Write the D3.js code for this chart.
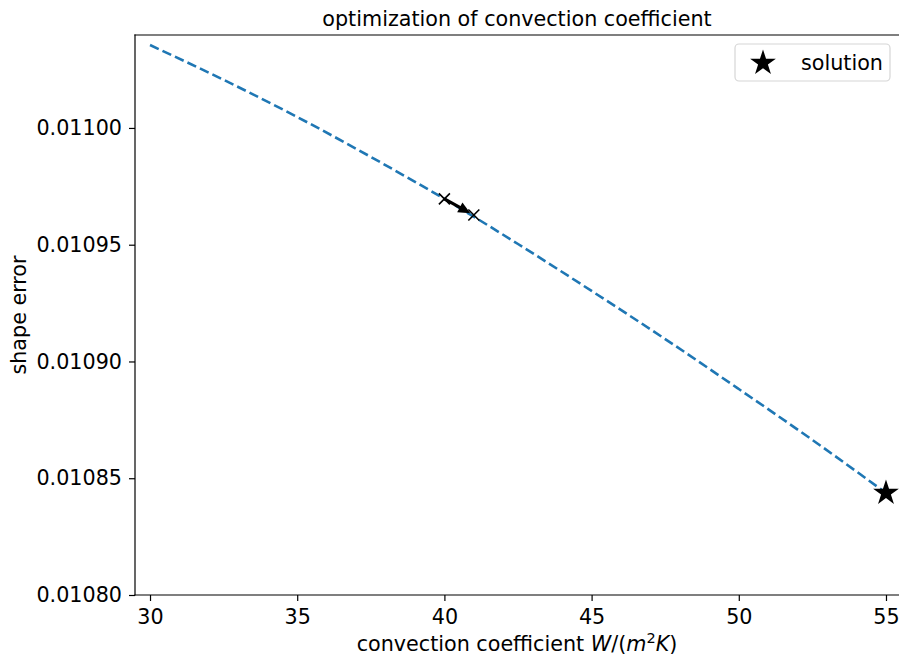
<!DOCTYPE html>
<html>
<head>
<meta charset="utf-8">
<script src="https://cdn.jsdelivr.net/npm/d3@7"></script>
<style>
    body { margin: 0; background: #fff; }
    svg { display: block; font-family: "DejaVu Sans", sans-serif; }
</style>
</head>
<body>
<svg id="chart" width="899" height="656"></svg>
<script>
//  values
const coefficients = [30, 32.5, 35, 37.5, 40, 42.5, 45, 47.5, 50, 52.5, 55];
const shapeErrors = [0.0110355, 0.0110206, 0.0110047, 0.0109876, 0.0109696, 0.0109503,
    0.0109302, 0.0109096, 0.0108882, 0.0108664, 0.0108437];
const stepCoefficients = [40, 41];
const stepErrors = [0.0109696, 0.0109627];
const solution = [55, 0.0108437];
const xTicks = [30, 35, 40, 45, 50, 55];
const yTicks = [0.01080, 0.01085, 0.01090, 0.01095, 0.01100];

const chartView = {

    svg: null,
    x: null,
    y: null,
    box: {left: 135, right: 899, top: 35, bottom: 595},
    fontSize: "20.7px",

    initialize: function (iSVG) {
        this.svg = iSVG;
        this.x = d3.scaleLinear().domain([29.49, 55.442]).range([this.box.left, this.box.right]);
        this.y = d3.scaleLinear().domain([0.01080, 0.0110398]).range([this.box.bottom, this.box.top]);
    },

    drawAxes: function () {
        const b = this.box;

        const xAxis = d3.axisBottom(this.x)
            .tickValues(xTicks)
            .tickFormat(d3.format("d"))
            .tickSize(6)
            .tickPadding(8);
        const yAxis = d3.axisLeft(this.y)
            .tickValues(yTicks)
            .tickFormat(d3.format(".5f"))
            .tickSize(6)
            .tickPadding(7);

        [[xAxis, `translate(0,${b.bottom})`], [yAxis, `translate(${b.left},0)`]].forEach(([ax, tr]) => {
            const g = this.svg.append("g").attr("transform", tr).call(ax);
            g.select(".domain").remove();
            g.selectAll("line").attr("stroke", "#000").attr("stroke-width", 1.2);
            g.selectAll("text")
                .attr("fill", "#000")
                .style("font-size", this.fontSize)
                .style("font-family", "DejaVu Sans, sans-serif");
        });

        //  spines: left, top, bottom (right one falls off the picture)
        const spines = [
            [b.left, b.top, b.left, b.bottom],
            [b.left, b.top, b.right, b.top],
            [b.left, b.bottom, b.right, b.bottom]
        ];
        this.svg.append("g")
            .selectAll("line")
            .data(spines)
            .join("line")
            .attr("x1", d => d[0]).attr("y1", d => d[1])
            .attr("x2", d => d[2]).attr("y2", d => d[3])
            .attr("stroke", "#000")
            .attr("stroke-width", 1.2)
            .attr("stroke-linecap", "square");
    },

    drawLabels: function () {
        const cx = (this.box.left + this.box.right) / 2;

        this.svg.append("text")
            .attr("x", cx).attr("y", 26)
            .attr("text-anchor", "middle")
            .style("font-size", this.fontSize)
            .text("optimization of convection coefficient");

        const xl = this.svg.append("text")
            .attr("x", cx).attr("y", 651)
            .attr("text-anchor", "middle")
            .style("font-size", this.fontSize);
        xl.append("tspan").text("convection coefficient ");
        xl.append("tspan").style("font-style", "italic").text("W");
        xl.append("tspan").text("/(");
        xl.append("tspan").style("font-style", "italic").text("m");
        xl.append("tspan").attr("dy", -8).style("font-size", "14.5px").text("2");
        xl.append("tspan").attr("dy", 8).style("font-style", "italic").text("K");
        xl.append("tspan").text(")");

        this.svg.append("text")
            .attr("transform", `translate(26,${(this.box.top + this.box.bottom) / 2}) rotate(-90)`)
            .attr("text-anchor", "middle")
            .style("font-size", this.fontSize)
            .text("shape error");
    },

    drawCurve: function () {
        const pts = coefficients.map((c, i) => [c, shapeErrors[i]]);
        const line = d3.line()
            .x(d => this.x(d[0]))
            .y(d => this.y(d[1]))
            .curve(d3.curveMonotoneX);

        this.svg.append("path")
            .datum(pts)
            .attr("d", line)
            .attr("fill", "none")
            .attr("stroke", "#1f77b4")
            .attr("stroke-width", 2.6)
            .attr("stroke-dasharray", "9.6,4.2");
    },

    drawSteps: function () {
        const p = stepCoefficients.map((c, i) => [this.x(c), this.y(stepErrors[i])]);

        //  arrow from the first step to the second, shrunk a little at the tip
        const dx = p[1][0] - p[0][0], dy = p[1][1] - p[0][1];
        const len = Math.hypot(dx, dy);
        const ux = dx / len, uy = dy / len;
        const tip = [p[1][0] - 4 * ux, p[1][1] - 4 * uy];
        const headLen = 12, headHalf = 5.5;
        const base = [tip[0] - headLen * ux, tip[1] - headLen * uy];

        this.svg.append("line")
            .attr("x1", p[0][0]).attr("y1", p[0][1])
            .attr("x2", base[0] + ux).attr("y2", base[1] + uy)
            .attr("stroke", "#000")
            .attr("stroke-width", 3.2);

        let head = d3.path();
        head.moveTo(tip[0], tip[1]);
        head.lineTo(base[0] - headHalf * uy, base[1] + headHalf * ux);
        head.lineTo(base[0] + headHalf * uy, base[1] - headHalf * ux);
        head.closePath();
        this.svg.append("path").attr("d", head.toString()).attr("fill", "#000");

        this.svg.append("g")
            .selectAll("path")
            .data(p)
            .join("path")
            .attr("d", d => `M${d[0] - 5.5},${d[1] - 5.5}L${d[0] + 5.5},${d[1] + 5.5}M${d[0] - 5.5},${d[1] + 5.5}L${d[0] + 5.5},${d[1] - 5.5}`)
            .attr("stroke", "#000")
            .attr("stroke-width", 1.6)
            .attr("fill", "none");
    },

    drawSolution: function () {
        const star = d3.symbol().type(d3.symbolStar).size(205);

        this.svg.append("path")
            .attr("d", star())
            .attr("transform", `translate(${this.x(solution[0])},${this.y(solution[1])})`)
            .attr("fill", "#000");

        //  legend
        const lg = this.svg.append("g");
        lg.append("rect")
            .attr("x", 735).attr("y", 44)
            .attr("width", 155).attr("height", 37)
            .attr("rx", 4)
            .attr("fill", "#fff")
            .attr("fill-opacity", 0.8)
            .attr("stroke", "#d6d6d6")
            .attr("stroke-width", 1.2);
        lg.append("path")
            .attr("d", star())
            .attr("transform", "translate(763,63)")
            .attr("fill", "#000");
        lg.append("text")
            .attr("x", 801).attr("y", 70)
            .style("font-size", this.fontSize)
            .text("solution");
    }
};

chartView.initialize(d3.select("#chart"));
chartView.drawAxes();
chartView.drawLabels();
chartView.drawCurve();
chartView.drawSteps();
chartView.drawSolution();
</script>
</body>
</html>
